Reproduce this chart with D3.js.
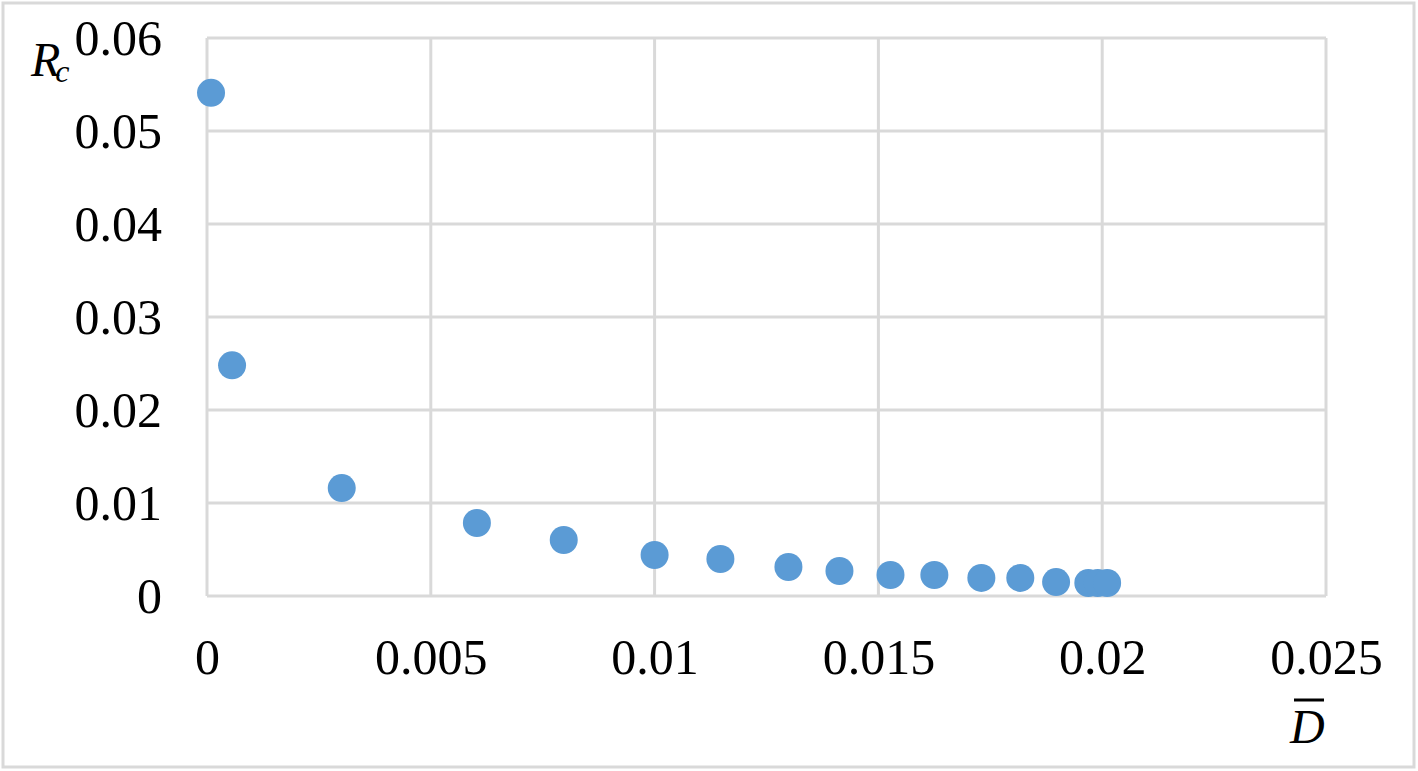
<!DOCTYPE html>
<html>
<head>
<meta charset="utf-8">
<script src="https://cdn.jsdelivr.net/npm/d3@7"></script>
<style>
	body { margin: 0; background: #fff; }
	svg text { font-family: "Liberation Serif", "Times New Roman", serif; }
</style>
</head>
<body>
<svg id="chart" width="1418" height="771"></svg>
<script>
// values
var dBar = [0.00009, 0.00056, 0.00301, 0.00603, 0.00797, 0.01, 0.01147, 0.01299, 0.01413, 0.01527, 0.01625, 0.0173, 0.01817, 0.01897, 0.01969, 0.0199, 0.02011];
var rc = [0.0541, 0.0248, 0.0116, 0.00785, 0.00602, 0.00441, 0.00398, 0.00312, 0.00269, 0.00226, 0.00226, 0.00194, 0.00194, 0.0015, 0.0014, 0.0014, 0.0014];
var xTicks = [0, 0.005, 0.01, 0.015, 0.02, 0.025];
var yTicks = [0, 0.01, 0.02, 0.03, 0.04, 0.05, 0.06];
var xTickLabels = ["0", "0.005", "0.01", "0.015", "0.02", "0.025"];
var yTickLabels = ["0", "0.01", "0.02", "0.03", "0.04", "0.05", "0.06"];

var svg = d3.select("#chart"),

margin = {
	top: 38,
	right: 92,
	bottom: 175,
	left: 207
},
width = 1418 - margin.left - margin.right,
height = 771 - margin.top - margin.bottom,

gridColor = "#d9d9d9";

// outer frame
svg.append("rect")
	.attr("x", 3)
	.attr("y", 3)
	.attr("width", 1411)
	.attr("height", 764)
	.attr("fill", "#fff")
	.attr("stroke", gridColor)
	.attr("stroke-width", 3);

var g = svg.append("g").attr("transform", "translate(" + margin.left + "," + margin.top + ")");

var x = d3.scaleLinear()
	.domain([0, 0.025])
	.range([0, width]);

var y = d3.scaleLinear()
	.domain([0, 0.06])
	.range([height, 0]);

// grid lines
g.append("g")
	.selectAll("line")
	.data(xTicks)
	.enter().append("line")
	.attr("x1", function (d) { return x(d); })
	.attr("x2", function (d) { return x(d); })
	.attr("y1", 0)
	.attr("y2", height)
	.attr("stroke", gridColor)
	.attr("stroke-width", 3);

g.append("g")
	.selectAll("line")
	.data(yTicks)
	.enter().append("line")
	.attr("x1", 0)
	.attr("x2", width)
	.attr("y1", function (d) { return y(d); })
	.attr("y2", function (d) { return y(d); })
	.attr("stroke", gridColor)
	.attr("stroke-width", 3);

// axes (text only, lines drawn by grid)
var xAxis = g.append("g")
	.attr("transform", "translate(0," + height + ")")
	.call(d3.axisBottom(x).tickValues(xTicks).tickSize(0).tickPadding(42)
		.tickFormat(function (d, i) { return xTickLabels[i]; }));
xAxis.select(".domain").remove();
xAxis.selectAll("text")
	.attr("font-size", "50px")
	.attr("fill", "#000")
	.style("font-family", "'Liberation Serif', serif");

var yAxis = g.append("g")
	.call(d3.axisLeft(y).tickValues(yTicks).tickSize(0).tickPadding(45)
		.tickFormat(function (d, i) { return yTickLabels[i]; }));
yAxis.select(".domain").remove();
yAxis.selectAll("text")
	.attr("font-size", "50px")
	.attr("fill", "#000")
	.attr("dy", "0.33em")
	.style("font-family", "'Liberation Serif', serif");

// points
g.selectAll(".dot")
	.data(dBar)
	.enter().append("circle")
	.attr("class", "dot")
	.attr("cx", function (d) { return x(d); })
	.attr("cy", function (d, i) { return y(rc[i]); })
	.attr("r", 14)
	.attr("fill", "#5b9bd5");

// axis titles
var yTitle = svg.append("text")
	.attr("x", 31)
	.attr("y", 76)
	.attr("font-size", "48px")
	.attr("font-style", "italic")
	.attr("fill", "#000");
yTitle.append("tspan").text("R");
yTitle.append("tspan").attr("font-size", "32px").attr("dy", 6).attr("dx", -5).text("c");

svg.append("text")
	.attr("x", 1290)
	.attr("y", 743)
	.attr("font-size", "48px")
	.attr("font-style", "italic")
	.attr("fill", "#000")
	.text("D");

svg.append("line")
	.attr("x1", 1294)
	.attr("x2", 1324)
	.attr("y1", 700)
	.attr("y2", 700)
	.attr("stroke", "#000")
	.attr("stroke-width", 3);
</script>
</body>
</html>
